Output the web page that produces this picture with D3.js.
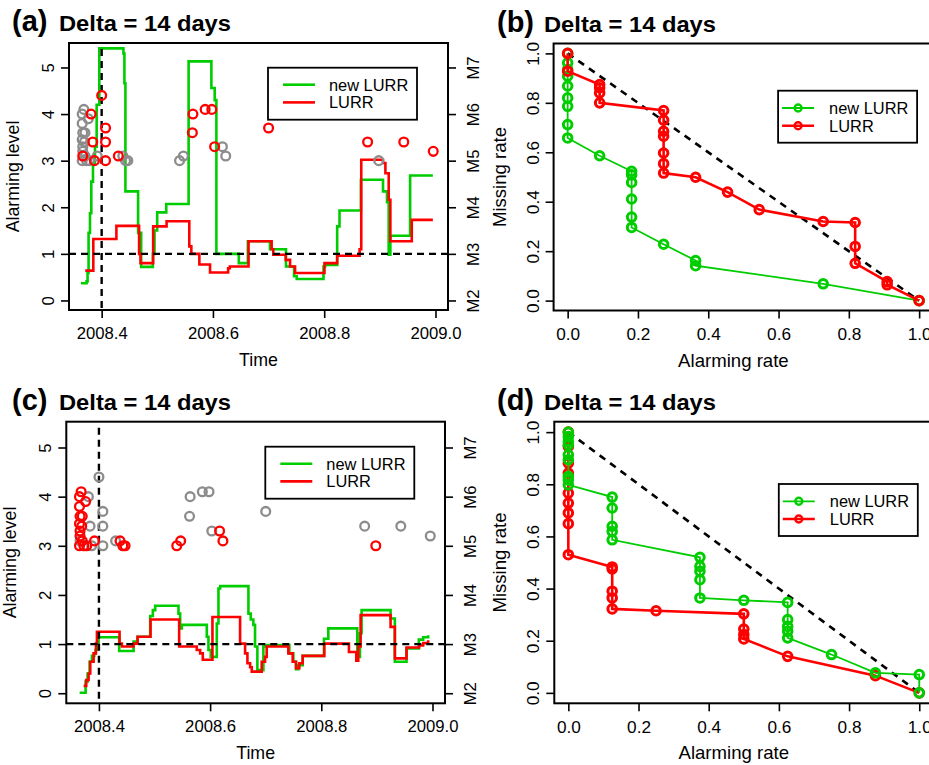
<!DOCTYPE html>
<html>
<head>
<meta charset="utf-8">
<script src="https://cdn.jsdelivr.net/npm/d3@7"></script>
<style>
  body { margin: 0; background: #fff; }
  svg { font-family: "Liberation Sans", Arial, sans-serif; }
</style>
</head>
<body>
<div id="chart"></div>
<script>
"use strict";

// ---- data ----
var yearTicks = [2008.4, 2008.6, 2008.8, 2009.0];
var levelTicks = [0, 1, 2, 3, 4, 5];
var magLabels = ["M2", "M3", "M4", "M5", "M6", "M7"];
var rateTicks = [0, 0.2, 0.4, 0.6, 0.8, 1.0];
var seriesNames = ["new LURR", "LURR"];

// panel (a) alarming level, step series
var aNewT = [2008.3627, 2008.3729, 2008.3747, 2008.3765, 2008.3790, 2008.3814, 2008.3844, 2008.3880, 2008.3910, 2008.3958,
  2008.4391, 2008.4409, 2008.4427, 2008.4655, 2008.4710, 2008.4920, 2008.4950, 2008.4998, 2008.5161, 2008.5563,
  2008.5972, 2008.6032, 2008.6062, 2008.6465, 2008.6628, 2008.7025, 2008.7313, 2008.7458, 2008.7506, 2008.7987,
  2008.8017, 2008.8233, 2008.8275, 2008.8660, 2008.9057, 2008.9129, 2008.9159, 2008.9189, 2008.9544, 2008.9953];
var aNewL = [0.37, 0.41, 0.59, 1.45, 1.87, 2.55, 2.95, 3.30, 4.20, 5.41,
  5.30, 4.66, 2.34, 1.45, 0.72, 1.00, 1.50, 1.89, 2.07, 5.13,
  4.56, 4.30, 1.00, 0.80, 1.27, 1.10, 0.73, 0.52, 0.46, 0.73,
  0.76, 1.59, 1.93, 2.59, 2.34, 2.11, 0.98, 1.39, 2.68, 2.68];
var aLurrT = [2008.3705, 2008.3850, 2008.4265, 2008.4673, 2008.4698, 2008.4926, 2008.5167, 2008.5575, 2008.5612, 2008.5756,
  2008.5948, 2008.6273, 2008.6303, 2008.6640, 2008.7055, 2008.7085, 2008.7308, 2008.7386, 2008.7476, 2008.8005,
  2008.8233, 2008.8636, 2008.8666, 2008.9057, 2008.9100, 2008.9159, 2008.9189, 2008.9574, 2008.9953];
var aLurrL = [0.64, 1.32, 1.60, 1.00, 0.80, 1.59, 1.70, 1.16, 1.00, 0.77,
  0.60, 0.69, 0.73, 1.27, 1.10, 0.98, 0.87, 0.73, 0.59, 0.80,
  0.96, 1.10, 3.02, 2.95, 2.73, 2.16, 1.27, 1.73, 1.73];

// panel (c) alarming level, step series
var cNewT = [2008.3653, 2008.3760, 2008.3796, 2008.3832, 2008.3874, 2008.3916, 2008.3940, 2008.3964, 2008.3994, 2008.4365,
  2008.4623, 2008.4695, 2008.4922, 2008.4970, 2008.5012, 2008.5431, 2008.5461, 2008.5491, 2008.5940, 2008.5970,
  2008.6012, 2008.6120, 2008.6150, 2008.6180, 2008.6689, 2008.6731, 2008.6778, 2008.6808, 2008.6850, 2008.6958,
  2008.6988, 2008.7425, 2008.7497, 2008.7545, 2008.7587, 2008.7665, 2008.8048, 2008.8126, 2008.8647, 2008.8695,
  2008.8725, 2008.9246, 2008.9323, 2008.9533, 2008.9754, 2008.9832, 2008.9922];
var cNewL = [0.01, 0.24, 0.40, 0.64, 0.76, 0.81, 0.88, 1.01, 1.14, 0.86,
  1.05, 1.15, 1.57, 1.69, 1.78, 1.62, 1.32, 1.39, 1.15, 0.88,
  0.74, 1.42, 2.13, 2.18, 1.62, 1.50, 1.39, 0.95, 0.47, 0.95,
  0.98, 0.81, 0.64, 0.49, 0.57, 0.76, 1.11, 1.32, 0.74, 1.22,
  1.69, 1.52, 0.64, 0.91, 1.09, 1.14, 1.18];
var cLurrT = [2008.3725, 2008.3772, 2008.3814, 2008.3844, 2008.3904, 2008.3946, 2008.3964, 2008.4371, 2008.4413, 2008.4623,
  2008.4695, 2008.4928, 2008.5443, 2008.5760, 2008.5820, 2008.5868, 2008.6042, 2008.6539, 2008.6629, 2008.6671,
  2008.6719, 2008.6749, 2008.6928, 2008.6988, 2008.7018, 2008.7407, 2008.7485, 2008.7545, 2008.7605, 2008.7665,
  2008.8054, 2008.8497, 2008.8629, 2008.8665, 2008.8707, 2008.9246, 2008.9323, 2008.9533, 2008.9760, 2008.9832,
  2008.9922];
var cLurrL = [0.15, 0.27, 0.40, 0.64, 0.81, 1.01, 1.25, 1.01, 0.95, 1.01,
  1.15, 1.50, 0.95, 0.88, 0.81, 0.68, 1.55, 1.01, 0.81, 0.61,
  0.53, 0.44, 0.64, 0.74, 0.95, 0.81, 0.64, 0.51, 0.61, 0.76,
  1.01, 0.84, 0.66, 0.95, 1.59, 1.35, 0.71, 0.93, 0.97, 1.02,
  1.08];

// earthquakes (time, magnitude); set A is red in (a) / grey in (c), set B the other way round
var quakeAT = [2008.366, 2008.381, 2008.384, 2008.387, 2008.400, 2008.407, 2008.407, 2008.407, 2008.430,
  2008.563, 2008.564, 2008.586, 2008.598, 2008.603, 2008.700, 2008.878, 2008.943, 2008.996];
var quakeAM = [5.1, 6.0, 5.4, 5.0, 6.4, 5.7, 5.4, 5.0, 5.1,
  5.6, 6.0, 6.1, 6.1, 5.3, 5.7, 5.4, 5.4, 5.2];
var quakeBT = [2008.368, 2008.365, 2008.376, 2008.365, 2008.370, 2008.366, 2008.365, 2008.369, 2008.366, 2008.366,
  2008.370, 2008.365, 2008.373, 2008.378, 2008.392, 2008.438, 2008.443, 2008.447, 2008.540, 2008.547,
  2008.617, 2008.623, 2008.898];
var quakeBM = [6.1, 6.0, 5.9, 5.8, 5.6, 5.6, 5.45, 5.4, 5.3, 5.2,
  5.1, 5.0, 5.0, 5.0, 5.1, 5.1, 5.0, 5.0, 5.0, 5.1,
  5.3, 5.1, 5.0];

// panel (b) missing rate vs alarming rate
var bNewAR = [0, 0, 0, 0, 0, 0, 0, 0, 0, 0.091, 0.182, 0.182, 0.182, 0.182, 0.182, 0.182, 0.273, 0.364, 0.364, 0.727, 1.0];
var bNewMR = [1.0, 0.962, 0.935, 0.908, 0.868, 0.82, 0.786, 0.712, 0.658, 0.586, 0.523, 0.509, 0.478, 0.411, 0.338, 0.296, 0.228, 0.162, 0.141, 0.068, 0.0];
var bLurrAR = [0, 0, 0.091, 0.091, 0.091, 0.091, 0.273, 0.273, 0.273, 0.273, 0.273, 0.273, 0.273, 0.364, 0.455, 0.545, 0.727, 0.818, 0.818, 0.818, 0.909, 0.909, 1.0];
var bLurrMR = [1.0, 0.928, 0.874, 0.861, 0.84, 0.80, 0.769, 0.73, 0.685, 0.665, 0.597, 0.554, 0.516, 0.499, 0.439, 0.368, 0.32, 0.316, 0.219, 0.151, 0.077, 0.064, 0.0];

// panel (d)
var dNewAR = [0, 0, 0, 0, 0, 0, 0, 0, 0, 0.125, 0.125, 0.125, 0.125, 0.125, 0.375, 0.375, 0.375, 0.375, 0.375, 0.5, 0.625, 0.625, 0.625, 0.625, 0.625, 0.75, 0.875, 1.0, 1.0];
var dNewMR = [1.0, 0.983, 0.964, 0.951, 0.913, 0.894, 0.83, 0.817, 0.798, 0.751, 0.709, 0.639, 0.619, 0.587, 0.52, 0.485, 0.466, 0.434, 0.364, 0.355, 0.347, 0.281, 0.255, 0.236, 0.211, 0.147, 0.077, 0.07, 0.0];
var dLurrAR = [0, 0, 0, 0, 0, 0, 0, 0, 0, 0.125, 0.125, 0.125, 0.125, 0.125, 0.25, 0.5, 0.5, 0.5, 0.5, 0.625, 0.875, 1.0];
var dLurrMR = [1.0, 0.945, 0.881, 0.843, 0.766, 0.728, 0.69, 0.649, 0.53, 0.483, 0.475, 0.39, 0.364, 0.322, 0.315, 0.303, 0.245, 0.224, 0.207, 0.14, 0.066, 0.0];

// ---- drawing ----
var GREEN = "#00cd00", RED = "#ff0000", GREY = "#8c8c8c";

var svg = d3.select("#chart").append("svg").attr("width", 929).attr("height", 765);

function zip(a, b) { return a.map(function(v, i) { return [v, b[i]]; }); }

function frame(box, xDom, yDom) {
    var g = svg.append("g");
    var x = d3.scaleLinear().domain(xDom).range([box.x, box.x + box.w]);
    var y = d3.scaleLinear().domain(yDom).range([box.y + box.h, box.y]);
    return {g: g, x: x, y: y, box: box};
}

function title(g, letter, tx, base) {
    g.append("text").attr("x", tx).attr("y", base)
        .attr("font-size", 29).attr("font-weight", "bold").text("(" + letter + ")");
    g.append("text").attr("x", tx + 47).attr("y", base)
        .attr("font-size", 22).attr("font-weight", "bold")
        .attr("textLength", 172).attr("lengthAdjust", "spacingAndGlyphs")
        .text("Delta = 14 days");
}

function axes(p, fs, tfs, xt, xfmt, yt, yfmt, xTitle, yTitle, xOff, yOff) {
    var g = p.g, b = p.box;
    var xa = d3.axisBottom(p.x).tickValues(xt).tickFormat(xfmt).tickSize(8).tickPadding(4);
    var ya = d3.axisLeft(p.y).tickValues(yt).tickFormat(yfmt).tickSize(8).tickPadding(4);
    var gx = g.append("g").attr("transform", "translate(0," + (b.y + b.h) + ")").call(xa);
    var gy = g.append("g").attr("transform", "translate(" + b.x + ",0)").call(ya);
    [gx, gy].forEach(function(a) {
        a.select(".domain").remove();
        a.selectAll(".tick line").attr("stroke", "#000").attr("stroke-width", 1.6);
        a.selectAll(".tick text").attr("font-size", fs).attr("fill", "#000")
            .attr("font-family", "Liberation Sans, Arial, sans-serif");
    });
    gx.selectAll(".tick text").attr("y", 17);
    gy.selectAll(".tick text")
        .attr("x", null).attr("dy", null)
        .attr("text-anchor", "middle")
        .attr("transform", "translate(-21,0) rotate(-90)")
        .attr("y", 6);
    g.append("text").attr("x", b.x + b.w / 2 + xOff).attr("y", b.y + b.h + 56)
        .attr("text-anchor", "middle").attr("font-size", tfs).text(xTitle);
    g.append("text")
        .attr("transform", "translate(" + (b.x - yOff) + "," + (b.y + b.h / 2) + ") rotate(-90)")
        .attr("text-anchor", "middle").attr("font-size", tfs).text(yTitle);
}

function box(p) {
    p.g.append("rect").attr("x", p.box.x).attr("y", p.box.y)
        .attr("width", p.box.w).attr("height", p.box.h)
        .attr("fill", "none").attr("stroke", "#000").attr("stroke-width", 2);
}

function timePanel(box0, letter, newT, newL, lurrT, lurrL, redT, redM, greyT, greyM, legendTop) {
    var FS = 16.7;
    var p = frame(box0, [2008.3413, 2009.0225], [-0.205, 5.525]);
    var g = p.g, b = p.box;
    title(g, letter, 12, b.y - 12);
    axes(p, FS, 17.8, yearTicks, d3.format(".1f"), levelTicks, d3.format("d"), "Time", "Alarming level", 0, 50);

    // right axis: magnitude
    var ra = d3.axisRight(p.y).tickValues(levelTicks)
        .tickFormat(function(d, i) { return magLabels[i]; }).tickSize(8).tickPadding(4);
    var gr = g.append("g").attr("transform", "translate(" + (b.x + b.w) + ",0)").call(ra);
    gr.select(".domain").remove();
    gr.selectAll(".tick line").attr("stroke", "#000").attr("stroke-width", 1.6);
    gr.selectAll(".tick text").attr("font-size", FS).attr("fill", "#000")
        .attr("font-family", "Liberation Sans, Arial, sans-serif")
        .attr("x", null).attr("dy", null).attr("text-anchor", "middle")
        .attr("transform", "translate(25,0) rotate(-90)").attr("y", 6);

    var line = d3.line().curve(d3.curveStepAfter)
        .x(function(d) { return p.x(d[0]); }).y(function(d) { return p.y(d[1]); });
    g.append("path").datum(zip(newT, newL)).attr("d", line)
        .attr("fill", "none").attr("stroke", GREEN).attr("stroke-width", 2.6);
    g.append("path").datum(zip(lurrT, lurrL)).attr("d", line)
        .attr("fill", "none").attr("stroke", RED).attr("stroke-width", 2.6);

    // reference lines
    g.append("line").attr("x1", b.x).attr("x2", b.x + b.w)
        .attr("y1", p.y(1)).attr("y2", p.y(1))
        .attr("stroke", "#000").attr("stroke-width", 2.4).attr("stroke-dasharray", "7,5");
    g.append("line").attr("x1", p.x(2008.4)).attr("x2", p.x(2008.4))
        .attr("y1", b.y + 6).attr("y2", b.y + b.h)
        .attr("stroke", "#000").attr("stroke-width", 2.4).attr("stroke-dasharray", "7,5");

    // earthquakes, plotted on the magnitude axis (level = M - 2)
    function quakes(ts, ms, col) {
        g.append("g").selectAll("circle").data(zip(ts, ms)).enter().append("circle")
            .attr("cx", function(d) { return p.x(d[0]); })
            .attr("cy", function(d) { return p.y(d[1] - 2); })
            .attr("r", 4.4).attr("fill", "none").attr("stroke", col).attr("stroke-width", 2.3);
    }
    quakes(greyT, greyM, GREY);
    quakes(redT, redM, RED);

    box(p);

    // legend
    var lx = b.x + 199, ly = b.y + legendTop;
    var lg = g.append("g");
    lg.append("rect").attr("x", lx).attr("y", ly).attr("width", 149).attr("height", 52)
        .attr("fill", "#fff").attr("stroke", "#000").attr("stroke-width", 1.8);
    [GREEN, RED].forEach(function(c, i) {
        var yy = ly + 17 + i * 17.7;
        lg.append("line").attr("x1", lx + 15).attr("x2", lx + 47).attr("y1", yy).attr("y2", yy)
            .attr("stroke", c).attr("stroke-width", 2.6);
        lg.append("text").attr("x", lx + 61).attr("y", yy + 6).attr("font-size", 16.4).text(seriesNames[i]);
    });
}

function ratePanel(box0, letter, newAR, newMR, lurrAR, lurrMR, redFirst, legendTop) {
    var FS = 17.2;
    var p = frame(box0, [-0.04, 1.04], [-0.04, 1.04]);
    var g = p.g, b = p.box;
    title(g, letter, 497, b.y - 12);
    axes(p, FS, 18.6, rateTicks, d3.format(".1f"), rateTicks, d3.format(".1f"), "Alarming rate", "Missing rate", -10, 48);

    g.append("line").attr("x1", p.x(0)).attr("y1", p.y(1)).attr("x2", p.x(1)).attr("y2", p.y(0))
        .attr("stroke", "#000").attr("stroke-width", 2.6).attr("stroke-dasharray", "7,6");

    var line = d3.line().x(function(d) { return p.x(d[0]); }).y(function(d) { return p.y(d[1]); });
    function series(ar, mr, col, lw) {
        var pts = zip(ar, mr);
        g.append("path").datum(pts).attr("d", line).attr("fill", "none")
            .attr("stroke", col).attr("stroke-width", lw);
        g.append("g").selectAll("circle").data(pts).enter().append("circle")
            .attr("cx", function(d) { return p.x(d[0]); }).attr("cy", function(d) { return p.y(d[1]); })
            .attr("r", 4.3).attr("fill", "none").attr("stroke", col).attr("stroke-width", 3);
    }
    if (redFirst) {
        series(lurrAR, lurrMR, RED, 2.6);
        series(newAR, newMR, GREEN, 1.8);
    } else {
        series(newAR, newMR, GREEN, 1.8);
        series(lurrAR, lurrMR, RED, 2.6);
    }

    box(p);

    var lx = b.x + 224.5, ly = b.y + legendTop;
    var lg = g.append("g");
    lg.append("rect").attr("x", lx).attr("y", ly).attr("width", 139).attr("height", 52)
        .attr("fill", "#fff").attr("stroke", "#000").attr("stroke-width", 1.8);
    [GREEN, RED].forEach(function(c, i) {
        var yy = ly + 17.3 + i * 17.7;
        lg.append("line").attr("x1", lx + 4).attr("x2", lx + 36).attr("y1", yy).attr("y2", yy)
            .attr("stroke", c).attr("stroke-width", i ? 2.6 : 1.8);
        lg.append("circle").attr("cx", lx + 20).attr("cy", yy).attr("r", 3.5)
            .attr("fill", "none").attr("stroke", c).attr("stroke-width", 2.4);
        lg.append("text").attr("x", lx + 51).attr("y", yy + 6).attr("font-size", 16.4).text(seriesNames[i]);
    });
}

timePanel({x: 69, y: 43, w: 379, h: 267}, "a", aNewT, aNewL, aLurrT, aLurrL, quakeAT, quakeAM, quakeBT, quakeBM, 24.7);
ratePanel({x: 553.6, y: 43.5, w: 379.6, h: 267}, "b", bNewAR, bNewMR, bLurrAR, bLurrMR, false, 47.2);
timePanel({x: 66.3, y: 421.7, w: 378.7, h: 281.6}, "c", cNewT, cNewL, cLurrT, cLurrL, quakeBT, quakeBM, quakeAT, quakeAM, 25);
ratePanel({x: 554.3, y: 421.7, w: 379, h: 281.6}, "d", dNewAR, dNewMR, dLurrAR, dLurrMR, true, 62.3);
</script>
</body>
</html>
